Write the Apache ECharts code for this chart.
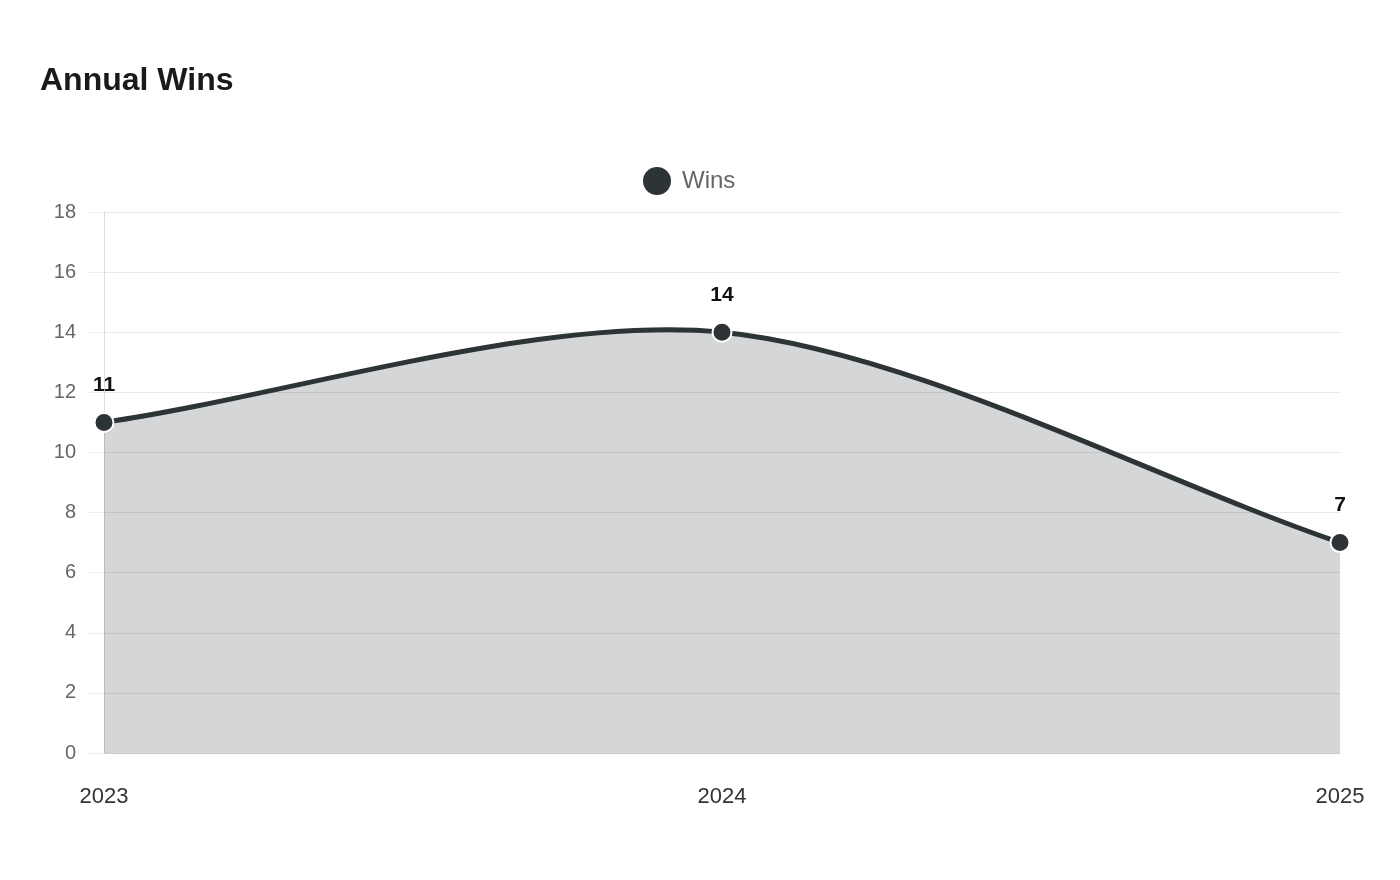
<!DOCTYPE html>
<html>
<head>
<meta charset="utf-8">
<script src="https://cdn.jsdelivr.net/npm/echarts@6/dist/echarts.min.js"></script>
<style>
html,body{margin:0;padding:0;background:#fff;}
#c{width:1400px;height:880px;}
</style>
</head>
<body>
<div id="c"></div>
<script>
var years = ['2023', '2024', '2025'];
var wins = [11, 14, 7];
var yTicks = { min: 0, max: 18, interval: 2 };

var LINE = '#2d3436';
var FONT = 'Liberation Sans, Arial, sans-serif';
var TENSION = 0.3;

function splinePaths(pts, baseY) {
  var n = pts.length;
  var cps = [];
  for (var i = 0; i < n; i++) {
    var prev = pts[i - 1] || pts[i];
    var cur = pts[i];
    var next = pts[i + 1] || pts[i];
    var d01 = Math.hypot(cur[0] - prev[0], cur[1] - prev[1]);
    var d12 = Math.hypot(next[0] - cur[0], next[1] - cur[1]);
    var s01 = d01 / (d01 + d12 || 1);
    var s12 = d12 / (d01 + d12 || 1);
    var fa = TENSION * s01, fb = TENSION * s12;
    cps.push({
      p: [cur[0] - fa * (next[0] - prev[0]), cur[1] - fa * (next[1] - prev[1])],
      n: [cur[0] + fb * (next[0] - prev[0]), cur[1] + fb * (next[1] - prev[1])]
    });
  }
  var d = 'M' + pts[0][0] + ',' + pts[0][1];
  for (var j = 1; j < n; j++) {
    d += ' C' + cps[j - 1].n[0] + ',' + cps[j - 1].n[1] + ' ' + cps[j].p[0] + ',' + cps[j].p[1] + ' ' + pts[j][0] + ',' + pts[j][1];
  }
  var area = d + ' L' + pts[n - 1][0] + ',' + baseY + ' L' + pts[0][0] + ',' + baseY + ' Z';
  return { line: d, area: area };
}

var chart = echarts.init(document.getElementById('c'));
chart.setOption({
  backgroundColor: '#fff',
  animation: false,
  title: {
    text: 'Annual Wins',
    left: 35,
    top: 60,
    textStyle: { fontFamily: FONT, fontSize: 32, fontWeight: 'bold', color: '#1a1a1a' }
  },
  legend: {
    top: 160,
    left: 636,
    itemWidth: 30,
    itemHeight: 30,
    icon: 'circle',
    textStyle: { fontFamily: FONT, fontSize: 24, color: '#666', padding: [0, 0, 0, 5] },
    data: ['Wins']
  },
  grid: { left: 104, right: 60, top: 212, bottom: 127, containLabel: false },
  xAxis: {
    type: 'category',
    data: years,
    boundaryGap: false,
    axisLine: { show: true, lineStyle: { color: '#ccc', width: 1 } },
    axisTick: { show: false },
    axisLabel: { margin: 33, fontSize: 22, color: '#333', fontFamily: FONT },
    splitLine: { show: false }
  },
  yAxis: {
    type: 'value',
    min: yTicks.min,
    max: yTicks.max,
    interval: yTicks.interval,
    axisLine: { show: true, lineStyle: { color: '#ddd', width: 1 } },
    axisTick: { show: true, length: 16, lineStyle: { color: '#eee' } },
    axisLabel: { margin: 28, fontSize: 20, color: '#666', fontFamily: FONT },
    splitLine: { show: true, lineStyle: { color: '#e8e8e8', width: 1 } }
  },
  series: [{
    name: 'WinsCurve',
    type: 'custom',
    coordinateSystem: 'cartesian2d',
    silent: true,
    z: 1,
    encode: { x: 0, y: 1 },
    data: wins.map(function (v, i) { return [i, v]; }),
    renderItem: function (params, api) {
      if (params.dataIndex !== 0) return null;
      var pts = wins.map(function (v, i) { return api.coord([i, v]); });
      var baseY = api.coord([0, yTicks.min])[1];
      var p = splinePaths(pts, baseY);
      return {
        type: 'group',
        children: [
          { type: 'path', shape: { pathData: p.area }, style: { fill: 'rgba(45,52,54,0.2)', stroke: null } },
          { type: 'path', shape: { pathData: p.line }, style: { fill: null, stroke: LINE, lineWidth: 5, lineJoin: 'round', lineCap: 'round' } }
        ]
      };
    }
  }, {
    name: 'Wins',
    type: 'line',
    data: wins,
    z: 3,
    color: LINE,
    lineStyle: { width: 0, opacity: 0 },
    symbol: 'circle',
    symbolSize: 19,
    itemStyle: { color: LINE, borderColor: '#fff', borderWidth: 2 },
    label: {
      show: true,
      position: 'top',
      distance: 16,
      fontSize: 21,
      fontWeight: 'bold',
      color: '#111',
      fontFamily: FONT
    }
  }]
});
</script>
</body>
</html>
